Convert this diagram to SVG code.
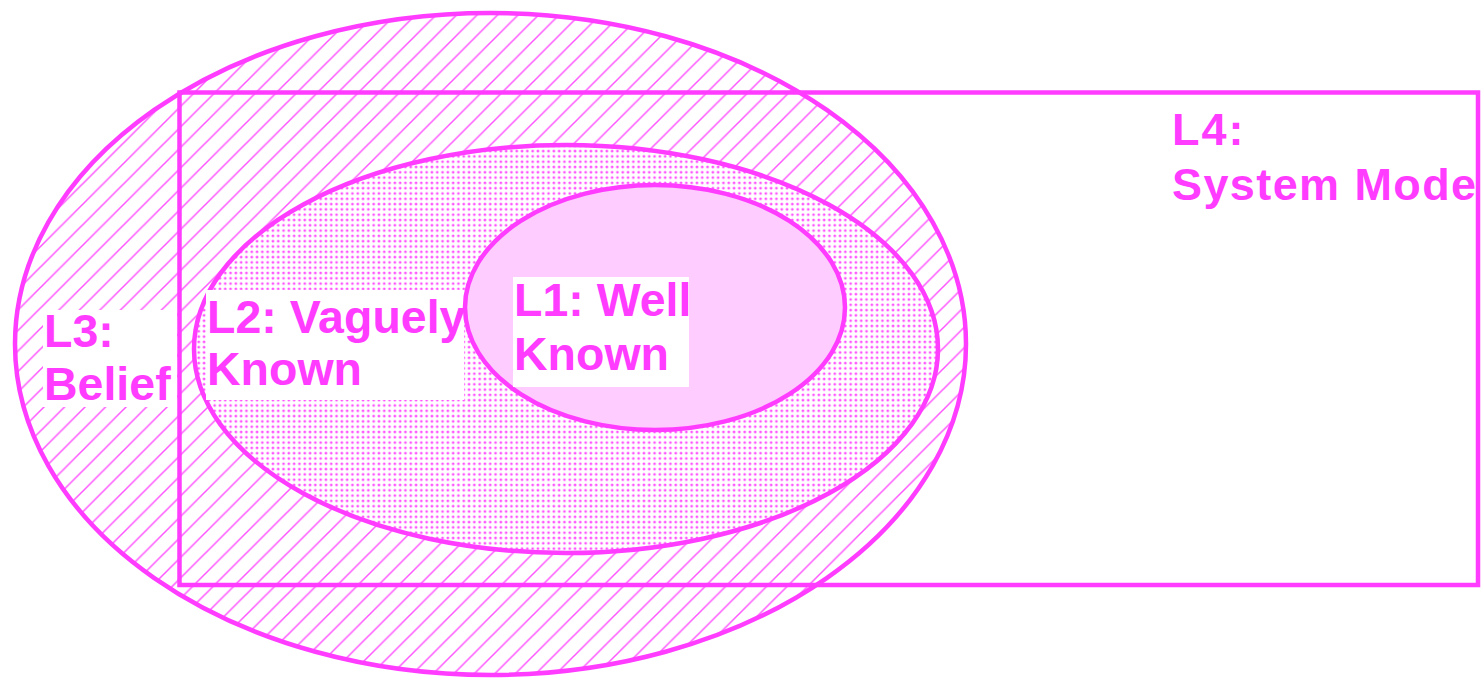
<svg xmlns="http://www.w3.org/2000/svg" width="1484" height="678" viewBox="0 0 1484 678">
  <style>
    .outline { stroke: #ff3cff; stroke-width: 4.5; }
    .label { font-family: "Liberation Sans", Arial, sans-serif; font-weight: bold; font-size: 46.5px; fill: #ff3cff; }
    .l4 { font-size: 45px; }
    .box { fill: #ffffff; stroke: none; }
  </style>
  <defs>
    <pattern id="hatch" patternUnits="userSpaceOnUse" width="20.5" height="20.5">
      <path d="M-2,22.5 L22.5,-2 M-2,2 L2,-2 M18.5,22.5 L22.5,18.5" stroke="#ff55ff" stroke-width="1.5" fill="none"/>
    </pattern>
    <pattern id="dots" patternUnits="userSpaceOnUse" width="5.3" height="5.3">
      <rect width="5.3" height="5.3" fill="#ffffff"/>
      <circle cx="2.65" cy="2.65" r="1.4" fill="#ff55ff"/>
    </pattern>
  </defs>
  <rect width="1484" height="678" fill="#ffffff"/>

  <g id="L3-belief">
    <ellipse cx="490.5" cy="344" rx="475.5" ry="331" fill="url(#hatch)" class="outline"/>
  </g>

  <g id="L2-vaguely-known">
    <ellipse cx="566" cy="349" rx="372" ry="204" fill="url(#dots)" class="outline"/>
    <rect class="box" x="206" y="290" width="258" height="110"/>
  </g>

  <g id="L1-well-known">
    <ellipse cx="655" cy="307.5" rx="190" ry="122.5" fill="#ffccff" class="outline"/>
    <rect class="box" x="513" y="277" width="176" height="110"/>
    <text class="label" x="514" y="316">L1: Well</text>
    <text class="label" x="514" y="370">Known</text>
  </g>

  <g id="L4-system-model">
    <rect x="179.5" y="92.5" width="1298.5" height="492.5" fill="none" class="outline"/>
    <text class="label l4" x="1172" y="145" letter-spacing="2">L4:</text>
    <text class="label l4" x="1172" y="200" letter-spacing="1.4">System Mode</text>
  </g>

  <g id="labels">
    <rect class="box" x="43" y="310" width="134" height="97"/>
    <text class="label" x="44" y="347">L3:</text>
    <text class="label" x="44" y="400">Belief</text>
    <text class="label" x="207" y="333">L2: Vaguely</text>
    <text class="label" x="207" y="385">Known</text>
  </g>

  <g id="connectors"></g>
</svg>
